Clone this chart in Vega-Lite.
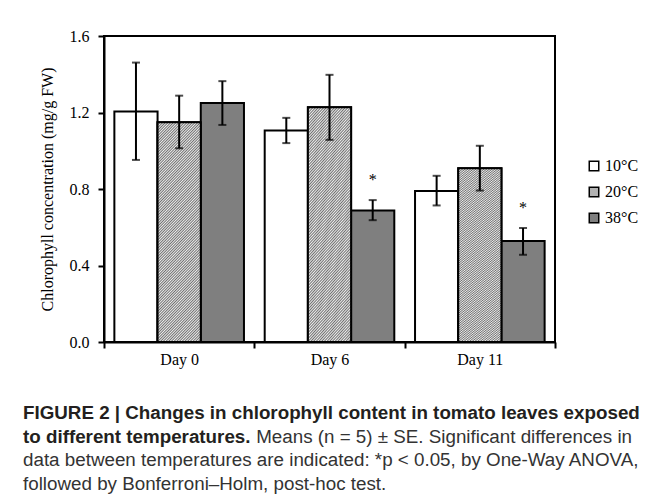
{
  "$schema": "https://vega.github.io/schema/vega-lite/v6.json",
  "width": 451,
  "height": 306,
  "autosize": "none",
  "padding": {"left": 104, "top": 36, "right": 102, "bottom": 160},
  "background": "white",
  "config": {
    "view": {"stroke": "black", "strokeWidth": 2},
    "axis": {"domainColor": "black", "domainWidth": 2, "tickColor": "black", "tickWidth": 2, "labelColor": "black", "titleColor": "black", "labelFont": "Liberation Serif", "titleFont": "Liberation Serif", "grid": false}
  },
  "title": {
    "text": ["FIGURE 2 | Changes in chlorophyll content in tomato leaves exposed", "to different temperatures."],
    "subtitle": ["\u2800\u00a0\u00a0\u00a0\u00a0\u00a0\u00a0\u00a0\u00a0\u00a0\u00a0\u00a0\u00a0\u00a0\u00a0\u00a0\u00a0\u00a0\u00a0\u00a0\u00a0\u00a0\u00a0\u00a0\u00a0\u00a0\u00a0\u00a0\u00a0\u00a0\u00a0\u00a0\u00a0\u00a0\u00a0\u00a0\u00a0\u00a0\u00a0\u00a0\u00a0\u00a0\u00a0Means (n = 5) ± SE. Significant differences in", "data between temperatures are indicated: *p < 0.05, by One-Way ANOVA,", "followed by Bonferroni–Holm, post-hoc test."],
    "orient": "bottom",
    "anchor": "start",
    "frame": "group",
    "dx": -81,
    "offset": 37,
    "font": "Liberation Sans",
    "fontSize": 18.8,
    "fontWeight": "bold",
    "color": "#231f20",
    "lineHeight": 23.5,
    "subtitleFont": "Liberation Sans",
    "subtitleFontSize": 18.8,
    "subtitleColor": "#333333",
    "subtitleLineHeight": 23.5,
    "subtitlePadding": -18.8
  },
  "data": {
    "values": [
      {"day": "Day 0", "temp": "10°C", "value": 1.205, "lo": 0.952, "hi": 1.461, "star": ""},
      {"day": "Day 0", "temp": "20°C", "value": 1.149, "lo": 1.013, "hi": 1.288, "star": ""},
      {"day": "Day 0", "temp": "38°C", "value": 1.250, "lo": 1.135, "hi": 1.364, "star": ""},
      {"day": "Day 6", "temp": "10°C", "value": 1.106, "lo": 1.040, "hi": 1.172, "star": ""},
      {"day": "Day 6", "temp": "20°C", "value": 1.228, "lo": 1.057, "hi": 1.397, "star": ""},
      {"day": "Day 6", "temp": "38°C", "value": 0.688, "lo": 0.637, "hi": 0.742, "star": "*"},
      {"day": "Day 11", "temp": "10°C", "value": 0.790, "lo": 0.714, "hi": 0.869, "star": ""},
      {"day": "Day 11", "temp": "20°C", "value": 0.909, "lo": 0.792, "hi": 1.026, "star": ""},
      {"day": "Day 11", "temp": "38°C", "value": 0.528, "lo": 0.456, "hi": 0.596, "star": "*"}
    ]
  },
  "encoding": {
    "x": {
      "field": "day", "type": "nominal", "sort": ["Day 0", "Day 6", "Day 11"],
      "scale": {"paddingInner": 0, "paddingOuter": 0},
      "axis": {"title": null, "labelAngle": 0, "labelFontSize": 16, "tickSize": 6, "tickBand": "extent", "labelPadding": 3, "domain": true}
    },
    "xOffset": {"field": "temp", "type": "nominal", "sort": ["10°C", "20°C", "38°C"], "scale": {"paddingInner": 0, "paddingOuter": 0.24}}
  },
  "layer": [
    {
      "mark": {"type": "bar", "stroke": "black", "strokeWidth": 2},
      "encoding": {
        "y": {
          "field": "value", "type": "quantitative",
          "scale": {"domain": [0, 1.6], "nice": false},
          "axis": {"title": "Chlorophyll concentration (mg/g FW)", "values": [0, 0.4, 0.8, 1.2, 1.6], "format": ".1f", "labelFontSize": 16, "titleFontSize": 16, "titleFontWeight": "normal", "tickSize": 6, "labelPadding": 9, "titlePadding": 14}
        },
        "fill": {
          "field": "temp", "type": "nominal", "sort": ["10°C", "20°C", "38°C"],
          "scale": {"domain": ["10°C", "20°C", "38°C"], "range": ["#ffffff", "#b2b2b2", "#7f7f7f"]},
          "legend": {"title": null, "orient": "none", "legendX": 482, "legendY": 122, "symbolType": "square", "symbolSize": 90, "symbolStrokeColor": "black", "symbolStrokeWidth": 1.5, "labelFont": "Liberation Serif", "labelFontSize": 16, "labelColor": "black", "labelOffset": 3, "rowPadding": 10, "padding": 0}
        }
      }
    },
    {
      "transform": [{"filter": "datum.temp === '20°C'"}],
      "mark": {
        "type": "bar", "stroke": "black", "strokeWidth": 2,
        "fill": {
          "gradient": "linear", "x1": 0, "y1": 0, "x2": 0.24, "y2": 1.2,
          "stops": [
            {"offset": 0.000, "color": "#707070"}, {"offset": 0.005, "color": "#eeeeee"}, {"offset": 0.010, "color": "#707070"}, {"offset": 0.015, "color": "#eeeeee"},
            {"offset": 0.020, "color": "#707070"}, {"offset": 0.025, "color": "#eeeeee"}, {"offset": 0.030, "color": "#707070"}, {"offset": 0.035, "color": "#eeeeee"},
            {"offset": 0.040, "color": "#707070"}, {"offset": 0.045, "color": "#eeeeee"}, {"offset": 0.050, "color": "#707070"}, {"offset": 0.055, "color": "#eeeeee"},
            {"offset": 0.060, "color": "#707070"}, {"offset": 0.065, "color": "#eeeeee"}, {"offset": 0.070, "color": "#707070"}, {"offset": 0.075, "color": "#eeeeee"},
            {"offset": 0.080, "color": "#707070"}, {"offset": 0.085, "color": "#eeeeee"}, {"offset": 0.090, "color": "#707070"}, {"offset": 0.095, "color": "#eeeeee"},
            {"offset": 0.100, "color": "#707070"}, {"offset": 0.105, "color": "#eeeeee"}, {"offset": 0.110, "color": "#707070"}, {"offset": 0.115, "color": "#eeeeee"},
            {"offset": 0.120, "color": "#707070"}, {"offset": 0.125, "color": "#eeeeee"}, {"offset": 0.130, "color": "#707070"}, {"offset": 0.135, "color": "#eeeeee"},
            {"offset": 0.140, "color": "#707070"}, {"offset": 0.145, "color": "#eeeeee"}, {"offset": 0.150, "color": "#707070"}, {"offset": 0.155, "color": "#eeeeee"},
            {"offset": 0.160, "color": "#707070"}, {"offset": 0.165, "color": "#eeeeee"}, {"offset": 0.170, "color": "#707070"}, {"offset": 0.175, "color": "#eeeeee"},
            {"offset": 0.180, "color": "#707070"}, {"offset": 0.185, "color": "#eeeeee"}, {"offset": 0.190, "color": "#707070"}, {"offset": 0.195, "color": "#eeeeee"},
            {"offset": 0.200, "color": "#707070"}, {"offset": 0.205, "color": "#eeeeee"}, {"offset": 0.210, "color": "#707070"}, {"offset": 0.215, "color": "#eeeeee"},
            {"offset": 0.220, "color": "#707070"}, {"offset": 0.225, "color": "#eeeeee"}, {"offset": 0.230, "color": "#707070"}, {"offset": 0.235, "color": "#eeeeee"},
            {"offset": 0.240, "color": "#707070"}, {"offset": 0.245, "color": "#eeeeee"}, {"offset": 0.250, "color": "#707070"}, {"offset": 0.255, "color": "#eeeeee"},
            {"offset": 0.260, "color": "#707070"}, {"offset": 0.265, "color": "#eeeeee"}, {"offset": 0.270, "color": "#707070"}, {"offset": 0.275, "color": "#eeeeee"},
            {"offset": 0.280, "color": "#707070"}, {"offset": 0.285, "color": "#eeeeee"}, {"offset": 0.290, "color": "#707070"}, {"offset": 0.295, "color": "#eeeeee"},
            {"offset": 0.300, "color": "#707070"}, {"offset": 0.305, "color": "#eeeeee"}, {"offset": 0.310, "color": "#707070"}, {"offset": 0.315, "color": "#eeeeee"},
            {"offset": 0.320, "color": "#707070"}, {"offset": 0.325, "color": "#eeeeee"}, {"offset": 0.330, "color": "#707070"}, {"offset": 0.335, "color": "#eeeeee"},
            {"offset": 0.340, "color": "#707070"}, {"offset": 0.345, "color": "#eeeeee"}, {"offset": 0.350, "color": "#707070"}, {"offset": 0.355, "color": "#eeeeee"},
            {"offset": 0.360, "color": "#707070"}, {"offset": 0.365, "color": "#eeeeee"}, {"offset": 0.370, "color": "#707070"}, {"offset": 0.375, "color": "#eeeeee"},
            {"offset": 0.380, "color": "#707070"}, {"offset": 0.385, "color": "#eeeeee"}, {"offset": 0.390, "color": "#707070"}, {"offset": 0.395, "color": "#eeeeee"},
            {"offset": 0.400, "color": "#707070"}, {"offset": 0.405, "color": "#eeeeee"}, {"offset": 0.410, "color": "#707070"}, {"offset": 0.415, "color": "#eeeeee"},
            {"offset": 0.420, "color": "#707070"}, {"offset": 0.425, "color": "#eeeeee"}, {"offset": 0.430, "color": "#707070"}, {"offset": 0.435, "color": "#eeeeee"},
            {"offset": 0.440, "color": "#707070"}, {"offset": 0.445, "color": "#eeeeee"}, {"offset": 0.450, "color": "#707070"}, {"offset": 0.455, "color": "#eeeeee"},
            {"offset": 0.460, "color": "#707070"}, {"offset": 0.465, "color": "#eeeeee"}, {"offset": 0.470, "color": "#707070"}, {"offset": 0.475, "color": "#eeeeee"},
            {"offset": 0.480, "color": "#707070"}, {"offset": 0.485, "color": "#eeeeee"}, {"offset": 0.490, "color": "#707070"}, {"offset": 0.495, "color": "#eeeeee"},
            {"offset": 0.500, "color": "#707070"}, {"offset": 0.505, "color": "#eeeeee"}, {"offset": 0.510, "color": "#707070"}, {"offset": 0.515, "color": "#eeeeee"},
            {"offset": 0.520, "color": "#707070"}, {"offset": 0.525, "color": "#eeeeee"}, {"offset": 0.530, "color": "#707070"}, {"offset": 0.535, "color": "#eeeeee"},
            {"offset": 0.540, "color": "#707070"}, {"offset": 0.545, "color": "#eeeeee"}, {"offset": 0.550, "color": "#707070"}, {"offset": 0.555, "color": "#eeeeee"},
            {"offset": 0.560, "color": "#707070"}, {"offset": 0.565, "color": "#eeeeee"}, {"offset": 0.570, "color": "#707070"}, {"offset": 0.575, "color": "#eeeeee"},
            {"offset": 0.580, "color": "#707070"}, {"offset": 0.585, "color": "#eeeeee"}, {"offset": 0.590, "color": "#707070"}, {"offset": 0.595, "color": "#eeeeee"},
            {"offset": 0.600, "color": "#707070"}, {"offset": 0.605, "color": "#eeeeee"}, {"offset": 0.610, "color": "#707070"}, {"offset": 0.615, "color": "#eeeeee"},
            {"offset": 0.620, "color": "#707070"}, {"offset": 0.625, "color": "#eeeeee"}, {"offset": 0.630, "color": "#707070"}, {"offset": 0.635, "color": "#eeeeee"},
            {"offset": 0.640, "color": "#707070"}, {"offset": 0.645, "color": "#eeeeee"}, {"offset": 0.650, "color": "#707070"}, {"offset": 0.655, "color": "#eeeeee"},
            {"offset": 0.660, "color": "#707070"}, {"offset": 0.665, "color": "#eeeeee"}, {"offset": 0.670, "color": "#707070"}, {"offset": 0.675, "color": "#eeeeee"},
            {"offset": 0.680, "color": "#707070"}, {"offset": 0.685, "color": "#eeeeee"}, {"offset": 0.690, "color": "#707070"}, {"offset": 0.695, "color": "#eeeeee"},
            {"offset": 0.700, "color": "#707070"}, {"offset": 0.705, "color": "#eeeeee"}, {"offset": 0.710, "color": "#707070"}, {"offset": 0.715, "color": "#eeeeee"},
            {"offset": 0.720, "color": "#707070"}, {"offset": 0.725, "color": "#eeeeee"}, {"offset": 0.730, "color": "#707070"}, {"offset": 0.735, "color": "#eeeeee"},
            {"offset": 0.740, "color": "#707070"}, {"offset": 0.745, "color": "#eeeeee"}, {"offset": 0.750, "color": "#707070"}, {"offset": 0.755, "color": "#eeeeee"},
            {"offset": 0.760, "color": "#707070"}, {"offset": 0.765, "color": "#eeeeee"}, {"offset": 0.770, "color": "#707070"}, {"offset": 0.775, "color": "#eeeeee"},
            {"offset": 0.780, "color": "#707070"}, {"offset": 0.785, "color": "#eeeeee"}, {"offset": 0.790, "color": "#707070"}, {"offset": 0.795, "color": "#eeeeee"},
            {"offset": 0.800, "color": "#707070"}, {"offset": 0.805, "color": "#eeeeee"}, {"offset": 0.810, "color": "#707070"}, {"offset": 0.815, "color": "#eeeeee"},
            {"offset": 0.820, "color": "#707070"}, {"offset": 0.825, "color": "#eeeeee"}, {"offset": 0.830, "color": "#707070"}, {"offset": 0.835, "color": "#eeeeee"},
            {"offset": 0.840, "color": "#707070"}, {"offset": 0.845, "color": "#eeeeee"}, {"offset": 0.850, "color": "#707070"}, {"offset": 0.855, "color": "#eeeeee"},
            {"offset": 0.860, "color": "#707070"}, {"offset": 0.865, "color": "#eeeeee"}, {"offset": 0.870, "color": "#707070"}, {"offset": 0.875, "color": "#eeeeee"},
            {"offset": 0.880, "color": "#707070"}, {"offset": 0.885, "color": "#eeeeee"}, {"offset": 0.890, "color": "#707070"}, {"offset": 0.895, "color": "#eeeeee"},
            {"offset": 0.900, "color": "#707070"}, {"offset": 0.905, "color": "#eeeeee"}, {"offset": 0.910, "color": "#707070"}, {"offset": 0.915, "color": "#eeeeee"},
            {"offset": 0.920, "color": "#707070"}, {"offset": 0.925, "color": "#eeeeee"}, {"offset": 0.930, "color": "#707070"}, {"offset": 0.935, "color": "#eeeeee"},
            {"offset": 0.940, "color": "#707070"}, {"offset": 0.945, "color": "#eeeeee"}, {"offset": 0.950, "color": "#707070"}, {"offset": 0.955, "color": "#eeeeee"},
            {"offset": 0.960, "color": "#707070"}, {"offset": 0.965, "color": "#eeeeee"}, {"offset": 0.970, "color": "#707070"}, {"offset": 0.975, "color": "#eeeeee"},
            {"offset": 0.980, "color": "#707070"}, {"offset": 0.985, "color": "#eeeeee"}, {"offset": 0.990, "color": "#707070"}, {"offset": 0.995, "color": "#eeeeee"},
            {"offset": 1.000, "color": "#707070"}
          ]
        }
      },
      "encoding": {"y": {"field": "value", "type": "quantitative"}}
    },
    {
      "mark": {"type": "rule", "color": "black", "strokeWidth": 2},
      "encoding": {"y": {"field": "lo", "type": "quantitative"}, "y2": {"field": "hi"}}
    },
    {
      "mark": {"type": "tick", "color": "black", "thickness": 2, "size": 8, "orient": "horizontal"},
      "encoding": {"y": {"field": "lo", "type": "quantitative"}}
    },
    {
      "mark": {"type": "tick", "color": "black", "thickness": 2, "size": 8, "orient": "horizontal"},
      "encoding": {"y": {"field": "hi", "type": "quantitative"}}
    },
    {
      "mark": {"type": "text", "font": "Liberation Serif", "fontSize": 16, "baseline": "alphabetic", "dy": -15, "color": "black"},
      "encoding": {"y": {"field": "hi", "type": "quantitative"}, "text": {"field": "star"}}
    }
  ]
}
